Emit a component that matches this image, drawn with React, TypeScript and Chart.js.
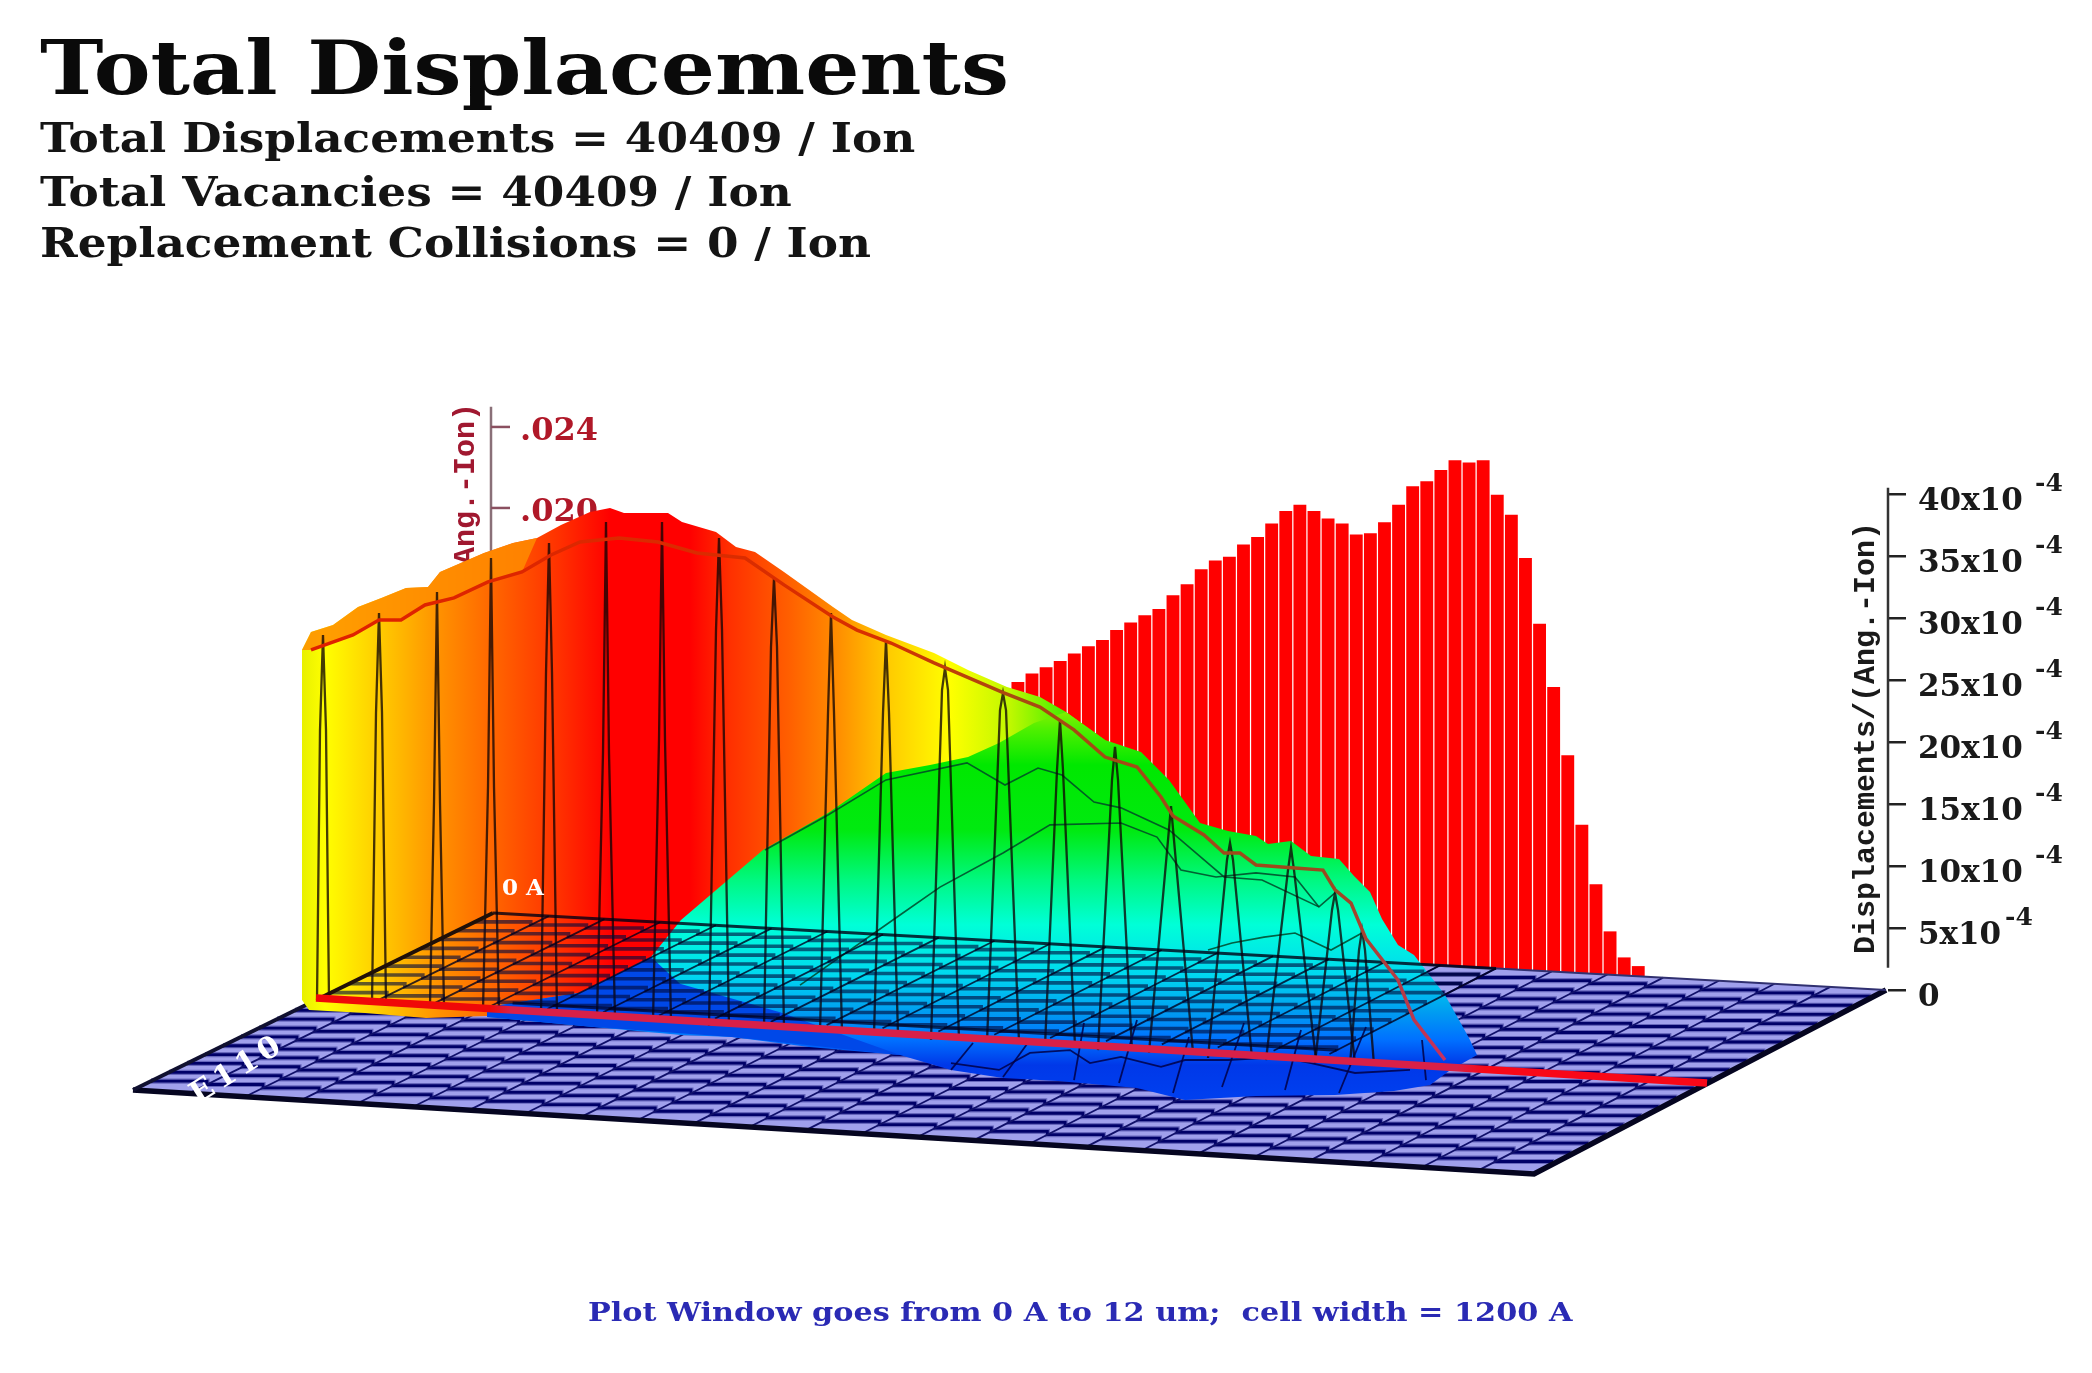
import React, { useEffect, useRef } from "react";
import { Chart, registerables } from "chart.js";

Chart.register(...registerables);

// ---------- text ----------
const chartTitle = "Total Displacements";
const statLines = [
  "Total Displacements = 40409 / Ion",
  "Total Vacancies = 40409 / Ion",
  "Replacement Collisions = 0 / Ion",
];
const footerText = "Plot Window goes from 0 A to 12 um;  cell width = 1200 A";
const axisTitle = "Displacements/(Ang.-Ion)";
const originLabel = "0 A";
const endLabel = "E110";

// ---------- right wall: displacements per bin (x10^-4) ----------
const binIndex = [38,39,40,41,42,43,44,45,46,47,48,49,50,51,52,53,54,55,56,57,58,59,60,61,62,63,64,65,66,67,68,69,70,71,72,73,74,75,76,77,78,79,80,81,82];
const binDisplacements = [24.8,25.5,26.0,26.5,27.1,27.7,28.2,29.0,29.6,30.2,30.7,31.8,32.7,33.9,34.6,34.9,35.9,36.5,37.6,38.6,39.1,38.6,38.0,37.6,36.7,36.8,37.7,39.1,40.6,41.0,41.9,42.7,42.5,42.7,39.9,38.3,34.8,29.5,24.4,18.9,13.3,8.5,4.7,2.6,1.9];
const rightTicks = [0,5,10,15,20,25,30,35,40];
const rightAxisSpan = [1.8,40.5];
const leftAxisSpan = [0.025,0.017];
const leftTicks = [0.024,0.020];
const leftTickLabels = [".024",".020"];

// ---------- floor corners (projected depth, left-axis height) ----------
const floorX = [493,1886,1534,133];
const floorV = [0,-0.0038,-0.01289,-0.00874];
const frontLineX = [316,1707];
const frontLineV = [-0.0042,-0.0084];

// ---------- back-wall profile ----------
const outerX = [302,311,333,358,382,406,428,440,484,513,537,561,590,610,624,668,682,716,736,755,784,833,852,886,934,968,1007,1040,1066,1105,1141,1169,1200,1228,1256,1268,1291,1311,1339,1354,1370,1382,1398,1414,1445,1469,1477];
const outerV = [.01299,.01388,.01422,.01511,.01556,.01605,.0161,.01684,.01778,.01827,.01852,.01916,.0198,.02,.01975,.01975,.01931,.01881,.01807,.01783,.01684,.01511,.01447,.01373,.01284,.012,.01116,.01067,.00993,.00854,.00795,.00657,.00444,.00405,.0038,.00341,.00356,.00281,.00267,.00183,.00104,-.0003,-.00158,-.00207,-.00405,-.00617,-.00701];
const innerX = [311,353,379,401,425,454,488,522,551,580,619,658,697,745,784,833,857,891,934,1002,1040,1074,1105,1137,1161,1173,1204,1224,1240,1256,1295,1323,1335,1351,1366,1398,1414,1445];
const innerV = [.01299,.01373,.01447,.01447,.01521,.01556,.01635,.01684,.01768,.01832,.01852,.01832,.01778,.01753,.0162,.01462,.01397,.01333,.01235,.01091,.01017,.00904,.0077,.00721,.00573,.00479,.00385,.00296,.00296,.00237,.00222,.00212,.00114,.00049,-.00128,-.00331,-.00528,-.00726];
const curtainFootX = [1105,487,426,365,309,302];
const curtainFootV = [-.00528,-.00509,-.00519,-.00494,-.00479,-.0043];

// ---------- mound ----------
const moundRiseX = [487,579,651,681,763,828,886,930,968,999,1034];
const moundRiseV = [-.00464,-.00395,-.00217,-.00035,.00311,.00494,.00691,.00731,.0077,.00839,.00938];
const skirtX = [1449,1430,1394,1335,1256,1185,1137,1058,1003,951,900,809,732,681,594,487];
const skirtV = [-.0078,-.00849,-.00879,-.00899,-.00904,-.00923,-.00864,-.0083,-.00815,-.00775,-.00701,-.00662,-.00612,-.00602,-.00563,-.00514];
const wedgeX = [487,579,651,680,780,900,732,594,487];
const wedgeV = [-.00464,-.00395,-.00217,-.0035,-.0049,-.00701,-.00612,-.00563,-.00514];

const sliceAX = [765,828,886,967,1005,1038,1062,1094,1121,1169,1224,1262,1319,1335];
const sliceAV = [.00311,.00484,.00657,.00741,.00632,.00716,.00681,.00548,.00519,.0041,.00178,.00163,.0003,.00099];
const sliceBX = [800,900,940,1003,1050,1121,1157,1181,1216,1256,1295,1319];
const sliceBV = [-.00356,-.0001,.00128,.00296,.00435,.00444,.00375,.00212,.00178,.00198,.00178,.0003];
const sliceCX = [1208,1232,1264,1295,1331,1362];
const sliceCV = [-.00183,-.00148,-.00119,-.00099,-.00183,-.00099];
const skirtWaveX = [951,999,1030,1070,1090,1121,1161,1185,1228,1279,1311,1355,1410];
const skirtWaveV = [-.00741,-.00775,-.00691,-.00677,-.00741,-.00711,-.0076,-.00726,-.00726,-.00711,-.00741,-.0079,-.00775];

// ---------- ribs ----------
const ribX = [323,379,437,491,549,606,662,719,774,831,886,945,1003,1060,1115,1171,1230,1291,1335,1362];
const ribTopV = [.01373,.01481,.01585,.01753,.01827,.01931,.01931,.01852,.01654,.01481,.01348,.0121,.01086,.00953,.0082,.00528,.00346,.00321,.00099,-.00084];
const ribSplitV = [.00904,.00988,.00543,.00622,.01185,.0079,.00854,.01398,.01314,.00988,.00988,.01101,.01002,.00706,.00657,.0036,.00262,.00212,.00015,-.00183];
const ribFootV = [-.0043,-.00444,-.00454,-.00479,-.00499,-.00519,-.00533,-.00558,-.00568,-.00588,-.00602,-.00627,-.00637,-.00657,-.00677,-.00691,-.00716,-.00726,-.00741,-.00751];
const ribFootHalf = [6,7,7,8,8,9,9,10,10,11,12,14,16,15,17,22,22,25,20,12];
const skirtRibTopX = [973,1030,1084,1137,1189,1244,1301,1366,1422];
const skirtRibTopV = [-.00642,-.00627,-.00543,-.00528,-.00612,-.00543,-.00578,-.00563,-.00627];
const skirtRibEndX = [951,1003,1074,1119,1173,1222,1285,1339,1426];
const skirtRibEndV = [-.00775,-.0081,-.00825,-.0084,-.00889,-.00859,-.00874,-.00889,-.00825];

// ---------- colour ramps ----------
const wallRampX = [302,325,375,440,500,560,610,690,730,790,840,890,950,1010,1060];
const wallRampColor = ["#e8f000","#ffff00","#ffd000","#ff9000","#ff6000","#ff3000","#ff0000","#ff0000","#ff3000","#ff6000","#ff9000","#ffcc00","#ffff00","#c0f800","#50f000"];
const moundRampV = [.01057,.00909,.00731,.0041,.00163,-.00059,-.00306,-.00479,-.00627,-.00751,-.00924];
const moundRampColor = ["#a8f000","#50f000","#00e800","#00ea10","#00f880","#00ffd8","#00d8f0","#00a0f0","#0070ff","#0038e8","#0040f0"];

// scale ranges: chart area runs 40..1888 across and 270..1300 down
const xRange = { min: 40, max: 1888 };
const xBinRange = { min: -31.79, max: 99.28 };
const yLeftRange = { min: -0.01911, max: 0.03175 };
const yRightRange = { min: -25, max: 58.06 };

const zip = (xs: number[], ys: number[]) => xs.map((x, i) => ({ x, y: ys[i] }));
const serif = '"DejaVu Serif"';

let orderCounter = 1000;
const layer = (data: any[], style: any) => ({
  type: "line",
  data,
  xAxisID: "x",
  yAxisID: "yLeft",
  pointRadius: 0,
  pointHoverRadius: 0,
  tension: 0,
  fill: false,
  clip: false,
  order: orderCounter--,
  ...style,
});

const floorPoint = (u: number, v: number) => {
  const bx = floorX[0] + (floorX[1] - floorX[0]) * u;
  const by = floorV[0] + (floorV[1] - floorV[0]) * u;
  const fx = floorX[3] + (floorX[2] - floorX[3]) * u;
  const fy = floorV[3] + (floorV[2] - floorV[3]) * u;
  return { x: bx + (fx - bx) * v, y: by + (fy - by) * v };
};

const CELLS_U = 25;
const CELLS_V = 20;

const floorStripes = (vEnd: number, uEnd: number, color: string, width: number) => {
  const out: any[] = [];
  for (let j = 1; j < CELLS_V; j++) {
    const v = j / CELLS_V;
    if (v > vEnd) break;
    const pts = [];
    for (let i = 0; i <= CELLS_U; i++) {
      if (i / CELLS_U > uEnd) break;
      pts.push(floorPoint(i / CELLS_U, v));
    }
    out.push(layer(pts, { borderColor: color, borderWidth: width, stepped: true }));
  }
  return out;
};
const floorCross = (vEnd: number, uEnd: number, color: string, width: number) => {
  const out: any[] = [];
  for (let i = 1; i < CELLS_U; i++) {
    const u = i / CELLS_U;
    if (u > uEnd) break;
    out.push(layer([floorPoint(u, 0), floorPoint(u, vEnd)], { borderColor: color, borderWidth: width }));
  }
  return out;
};

const wallGradient = (c: any) => {
  const { chart } = c;
  if (!chart.chartArea) return "#ff8000";
  const sx = chart.scales.x;
  const a = sx.getPixelForValue(wallRampX[0]);
  const b = sx.getPixelForValue(wallRampX[wallRampX.length - 1]);
  const g = chart.ctx.createLinearGradient(a, 0, b, 0);
  wallRampX.forEach((x, i) => g.addColorStop((sx.getPixelForValue(x) - a) / (b - a), wallRampColor[i]));
  return g;
};
const moundGradient = (c: any) => {
  const { chart } = c;
  if (!chart.chartArea) return "#00e800";
  const sy = chart.scales.yLeft;
  const a = sy.getPixelForValue(moundRampV[0]);
  const b = sy.getPixelForValue(moundRampV[moundRampV.length - 1]);
  const g = chart.ctx.createLinearGradient(0, a, 0, b);
  moundRampV.forEach((v, i) => g.addColorStop((sy.getPixelForValue(v) - a) / (b - a), moundRampColor[i]));
  return g;
};
const redLineGradient = (c: any) => {
  const { chart } = c;
  if (!chart.chartArea) return "#d02050";
  const g = chart.ctx.createLinearGradient(316, 0, 1707, 0);
  g.addColorStop(0, "#f00808");
  g.addColorStop(0.125, "#f00808");
  g.addColorStop(0.14, "#d82048");
  g.addColorStop(0.82, "#d82048");
  g.addColorStop(0.84, "#f80818");
  g.addColorStop(1, "#f80818");
  return g;
};
const profileGradient = (c: any) => {
  const { chart } = c;
  if (!chart.chartArea) return "#e02000";
  const g = chart.ctx.createLinearGradient(311, 0, 1445, 0);
  g.addColorStop(0, "#e02000");
  g.addColorStop(0.5, "#d83000");
  g.addColorStop(0.62, "#a84a10");
  g.addColorStop(0.9, "#9a4a20");
  g.addColorStop(1, "#c83060");
  return g;
};

const stretchedText = (ctx: any, text: string, x: number, baseline: number, font: string, stretch: number, color: string) => {
  ctx.save();
  ctx.translate(x, baseline);
  ctx.scale(stretch, 1);
  ctx.font = font;
  ctx.fillStyle = color;
  ctx.textAlign = "left";
  ctx.textBaseline = "alphabetic";
  ctx.fillText(text, 0, 0);
  ctx.restore();
};

const textPlugin = {
  id: "resketchText",
  beforeDatasetsDraw(chart: any) {
    const { ctx, scales } = chart;
    // heading block
    stretchedText(ctx, chartTitle, 40, 94, `bold 75px ${serif}`, 1.137, "#0a0a0a");
    statLines.forEach((line, i) => {
      stretchedText(ctx, line, 40, [152, 206, 257][i], `bold 41px ${serif}`, 1.106, "#141414");
    });
    // left axis, partly hidden by the surface
    const xp = scales.x.getPixelForValue(520);
    ctx.save();
    ctx.fillStyle = "#b01828";
    ctx.font = `bold 32px ${serif}`;
    ctx.textAlign = "left";
    ctx.textBaseline = "middle";
    leftTicks.forEach((t, i) => ctx.fillText(leftTickLabels[i], xp, scales.yLeft.getPixelForValue(t) + 5));
    ctx.translate(scales.x.getPixelForValue(474), 0);
    ctx.rotate(-Math.PI / 2);
    ctx.font = 'bold 30px "Liberation Mono"';
    ctx.fillStyle = "#a01830";
    ctx.textAlign = "left";
    ctx.textBaseline = "alphabetic";
    ctx.fillText(axisTitle, -835, 0);
    ctx.restore();
  },
  afterDatasetsDraw(chart: any) {
    const { ctx, scales } = chart;
    ctx.save();
    // white floor labels
    ctx.fillStyle = "#ffffff";
    ctx.font = `bold 23px ${serif}`;
    ctx.textAlign = "center";
    ctx.textBaseline = "middle";
    ctx.fillText(originLabel, scales.x.getPixelForValue(523), scales.yLeft.getPixelForValue(0.00116));
    ctx.save();
    ctx.translate(scales.x.getPixelForValue(238), scales.yLeft.getPixelForValue(-0.00775));
    ctx.rotate(-0.56);
    ctx.font = `bold 30px ${serif}`;
    ctx.letterSpacing = "5px";
    ctx.fillText(endLabel, 0, 0);
    ctx.restore();
    // footer
    stretchedText(ctx, footerText, 588, 1321, `bold 26px ${serif}`, 1.165, "#2a2ab4");
    // right axis title
    ctx.save();
    ctx.translate(1874, 738);
    ctx.rotate(-Math.PI / 2);
    ctx.textAlign = "center";
    ctx.textBaseline = "alphabetic";
    ctx.font = 'bold 30px "Liberation Mono"';
    ctx.fillStyle = "#1a1a1a";
    ctx.fillText(axisTitle, 0, 0);
    ctx.restore();
    // exponents on the right ticks
    const yD = scales.yD;
    ctx.font = `bold 25px ${serif}`;
    ctx.textAlign = "left";
    ctx.textBaseline = "middle";
    ctx.fillStyle = "#1a1a1a";
    rightTicks.filter((t) => t > 0).forEach((t) => {
      const y = yD.getPixelForValue(t);
      ctx.fillText("-4", t === 5 ? 2005 : 2035, y - 9);
    });
    ctx.restore();
  },
};

export default function App() {
  const ref = useRef<HTMLCanvasElement | null>(null);
  useEffect(() => {
    document.body.style.margin = "0";
    document.body.style.overflow = "hidden";
    orderCounter = 1000;
    const datasets: any[] = [];
    // right wall
    datasets.push({
      type: "bar",
      data: zip(binIndex, binDisplacements),
      xAxisID: "xBin",
      yAxisID: "yD",
      backgroundColor: "#ff0000",
      barThickness: 12.2,
      borderWidth: 0,
      clip: false,
      order: 2000,
    });
    // axes lines
    datasets.push(layer(zip([1888, 1888], rightAxisSpan), { yAxisID: "yD", borderColor: "#333333", borderWidth: 2.5 }));
    datasets.push(layer(zip([491, 491], leftAxisSpan), { borderColor: "#8a7078", borderWidth: 2.5 }));
    leftTicks.forEach((t) => datasets.push(layer(zip([491, 510], [t, t]), { borderColor: "#8a5060", borderWidth: 2.5 })));
    // floor
    datasets.push(layer(zip(floorX, floorV), { fill: "shape", backgroundColor: "#a0a0ec", borderWidth: 0, borderColor: "transparent" }));
    datasets.push(...floorStripes(1, 1, "#6666bc", 5.2));
    datasets.push(...floorStripes(1, 1, "#000068", 2.8));
    datasets.push(...floorCross(1, 1, "#10106a", 1.8));
    datasets.push(layer(zip([floorX[3], floorX[2], floorX[1]], [floorV[3], floorV[2], floorV[1]]), { borderColor: "#050520", borderWidth: 5.5 }));
    datasets.push(layer(zip([floorX[3], floorX[0]], [floorV[3], floorV[0]]), { borderColor: "#101030", borderWidth: 4 }));
    datasets.push(layer(zip([floorX[0], floorX[1]], [floorV[0], floorV[1]]), { borderColor: "#303070", borderWidth: 2 }));
    // back wall
    const wallPts = [...zip(outerX, outerV).filter((p) => p.x <= 1105), ...zip(curtainFootX, curtainFootV)];
    datasets.push(layer(wallPts, { fill: "shape", backgroundColor: wallGradient, borderWidth: 0, borderColor: "transparent" }));
    // hotter band between the outer edge and the profile line
    const bandPts = [...zip(outerX, outerV).filter((p) => p.x <= 537), ...zip(innerX, innerV).filter((p) => p.x <= 522).reverse()];
    datasets.push(layer(bandPts, { fill: "shape", backgroundColor: "rgba(255,140,0,0.85)", borderWidth: 0, borderColor: "transparent" }));
    // mound
    const moundPts = [...zip(moundRiseX, moundRiseV), ...zip(outerX, outerV).filter((p) => p.x >= 1066), ...zip(skirtX, skirtV)];
    datasets.push(layer(moundPts, { fill: "shape", backgroundColor: moundGradient, borderWidth: 0, borderColor: "transparent" }));
    datasets.push(layer(zip(wedgeX, wedgeV), { fill: "shape", backgroundColor: "#0048e8", borderWidth: 0, borderColor: "transparent" }));
    // thin slice contours
    [[sliceAX, sliceAV], [sliceBX, sliceBV], [sliceCX, sliceCV]].forEach(([a, b]) => datasets.push(layer(zip(a, b), { borderColor: "rgba(0,70,40,0.85)", borderWidth: 1.6 })));
    // ribs
    ribX.forEach((x, i) => {
      const pts = [
        { x: x - ribFootHalf[i], y: ribFootV[i] },
        { x: x - 3, y: ribSplitV[i] },
        { x, y: ribTopV[i] },
        { x: x + 3, y: ribSplitV[i] },
        { x: x + ribFootHalf[i], y: ribFootV[i] },
      ];
      datasets.push(layer(pts, { borderColor: "rgba(15,5,5,0.78)", borderWidth: 2.3 }));
    });
    // floor grid seen through the surface
    datasets.push(...floorStripes(0.47, 0.72, "rgba(0,10,60,0.62)", 3.6));
    datasets.push(...floorCross(0.47, 0.72, "rgba(0,0,30,0.8)", 1.8));
    const backEdge = [floorPoint(0, 0), floorPoint(0.72, 0)];
    datasets.push(layer(backEdge, { borderColor: "rgba(0,0,20,0.8)", borderWidth: 3 }));
    const leftEdge = [floorPoint(0, 0), floorPoint(0, 0.48)];
    datasets.push(layer(leftEdge, { borderColor: "#201008", borderWidth: 4 }));
    const midEdge = [floorPoint(0.13, 0.45), floorPoint(0.72, 0.45)];
    datasets.push(layer(midEdge, { borderColor: "rgba(0,0,30,0.7)", borderWidth: 3 }));
    // skirt detail
    datasets.push(layer(zip(skirtWaveX, skirtWaveV), { borderColor: "rgba(0,0,70,0.85)", borderWidth: 1.8 }));
    skirtRibTopX.forEach((x, i) => datasets.push(layer(zip([x, skirtRibEndX[i]], [skirtRibTopV[i], skirtRibEndV[i]]), { borderColor: "rgba(0,0,70,0.85)", borderWidth: 1.8 })));
    // profile & front line
    datasets.push(layer(zip(innerX, innerV), { borderColor: profileGradient, borderWidth: 3.5 }));
    datasets.push(layer(zip(frontLineX, frontLineV), { borderColor: redLineGradient, borderWidth: 7.5 }));

    const chart = new Chart(ref.current as HTMLCanvasElement, {
      type: "bar",
      data: { datasets },
      plugins: [textPlugin],
      options: {
        responsive: false,
        animation: false,
        events: [],
        layout: { padding: { left: 40, top: 270, right: 0, bottom: 73 } },
        plugins: {
          legend: { display: false },
          tooltip: { enabled: false },
          title: { display: false },
        },
        scales: {
          x: { type: "linear", display: false, offset: false, grid: { offset: false }, ...xRange },
          xBin: { type: "linear", display: false, offset: false, grid: { offset: false }, ...xBinRange },
          yLeft: { type: "linear", display: false, ...yLeftRange },
          yD: {
            type: "linear",
            position: "right",
            ...yRightRange,
            afterBuildTicks: (s: any) => { s.ticks = rightTicks.map((value) => ({ value })); },
            afterFit: (s: any) => { s.width = 204; },
            border: { display: false },
            grid: { drawOnChartArea: false, drawTicks: true, tickLength: 18, color: "#222222", lineWidth: 2.5 },
            ticks: {
              autoSkip: false,
              maxRotation: 0,
              padding: 12,
              labelOffset: 8,
              color: "#1a1a1a",
              font: { family: "DejaVu Serif", weight: "bold", size: 31 },
              callback: (v: any) => (v === 0 ? "0" : `${v}x10`),
            },
          },
        },
      } as any,
    } as any);
    return () => chart.destroy();
  }, []);
  return (
    <canvas
      ref={ref}
      width={2092}
      height={1373}
      style={{ position: "absolute", left: 0, top: 0, width: 2092, height: 1373, filter: "blur(0.6px)" }}
    />
  );
}
